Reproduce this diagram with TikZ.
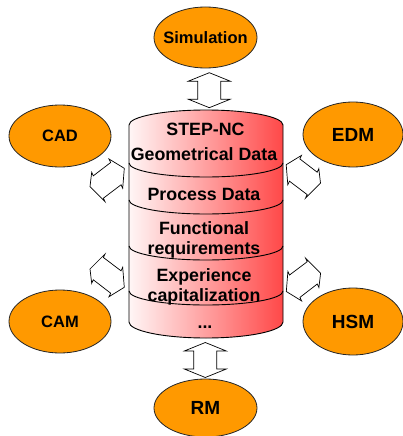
\documentclass[tikz,border=0pt]{standalone}
\usepackage{fontspec}
\setmainfont{Liberation Sans}
\usetikzlibrary{shapes.geometric,calc}
\definecolor{orangefill}{RGB}{255,153,0}
\definecolor{cylleft}{RGB}{255,246,246}
\definecolor{cylright}{RGB}{255,72,72}
\tikzset{
  ell/.style={ellipse, draw=black!85, line width=0.8pt, fill=orangefill, inner sep=0pt,
    font=\bfseries\fontsize{16.5}{18}\selectfont},
  ellbig/.style={ell, font=\bfseries\fontsize{19}{21}\selectfont},
  cyltext/.style={font=\bfseries\fontsize{17.8}{20}\selectfont, anchor=base, inner sep=0pt},
  blockarrow/.style={draw=black, fill=white, line width=0.7pt, line join=miter},
  cylline/.style={draw=black, line width=0.9pt},
  varrow/.pic={\draw[blockarrow] (-17.5,0) -- (-9,21) -- (-9,11.5) -- (9,11.5) -- (9,21)
     -- (17.5,0) -- (9,-21) -- (9,-11.5) -- (-9,-11.5) -- (-9,-21) -- cycle;}
}
% skewed double block arrow: tipA, cornerA1, cornerB1, tipB, cornerB2, cornerA2
\newcommand\hexarrow[6]{\draw[blockarrow] (#1) -- (#2) -- ($(#2)!0.12!(#6)$) -- ($(#3)!0.12!(#5)$)
  -- (#3) -- (#4) -- (#5) -- ($(#5)!0.12!(#3)$) -- ($(#6)!0.12!(#2)$) -- (#6) -- cycle;}
\begin{document}
\begin{tikzpicture}[x=1pt,y=-1pt]
\useasboundingbox (0,0) rectangle (403,436);

% outer ellipses
\node[ell, minimum width=103pt, minimum height=61pt] (sim) at (205.5,37.5) {\makebox[0pt]{Simulation}};
\node[ell, minimum width=102pt, minimum height=62pt] (cad) at (60,136) {\makebox[0pt]{CAD}};
\node[ellbig, minimum width=100pt, minimum height=65pt] (edm) at (353,134.5) {\makebox[0pt]{EDM}};
\node[ell, minimum width=102pt, minimum height=63pt] (cam) at (60,321.5) {\makebox[0pt]{CAM}};
\node[ellbig, minimum width=100pt, minimum height=67pt] (hsm) at (353,321.5) {\makebox[0pt]{HSM}};
\node[ellbig, minimum width=103pt, minimum height=58pt] (rm) at (205.5,408) {\makebox[0pt]{RM}};

% cylinder
\path[left color=cylleft, right color=cylright]
  (129,125) -- (129,322) arc[start angle=180, end angle=0, x radius=77, y radius=16]
  -- (283,125) arc[start angle=0, end angle=-180, x radius=77, y radius=15] -- cycle;
\draw[cylline]
  (129,125) -- (129,322) arc[start angle=180, end angle=0, x radius=77, y radius=16]
  -- (283,125) arc[start angle=0, end angle=-180, x radius=77, y radius=15] -- cycle;
\foreach \c in {163,200,246,291}
  \draw[cylline] (129,\c) arc[start angle=180, end angle=0, x radius=77, y radius=14];

\node[cyltext] (t1) at (205.5,135.7) {STEP-NC};
\node[cyltext] (t2) at (204,160.7) {Geometrical Data};
\node[cyltext] (t3) at (204,200.7) {Process Data};
\node[cyltext] (t4) at (204,234.3) {Functional};
\node[cyltext] (t5) at (204,254) {requirements};
\node[cyltext] (t6) at (204,281.7) {Experience};
\node[cyltext] (t7) at (204,301.7) {capitalization};
\node[cyltext] (t8) at (205,328.3) {...};

% vertical block arrows
\coordinate (aSim) at (209.3,90.2);
\coordinate (aRM)  at (205.3,360);
\pic[rotate=90] at (aSim) {varrow};
\pic[rotate=90] at (aRM) {varrow};

% skewed block arrows
\hexarrow{124.3,168.3}{109,159}{91.7,172.3}{90,186.7}{105,201.7}{122.7,188.3}   % CAD
\hexarrow{124.3,287.3}{122.7,267.3}{105,254}{90,269}{91.7,283.3}{109,296.7}     % CAM
\hexarrow{286.2,164.7}{301.5,155.4}{318.8,168.7}{320.5,183.1}{305.5,198.1}{287.8,184.7} % EDM
\hexarrow{286.3,291.5}{287.9,271.5}{305.6,258.2}{320.6,273.2}{318.9,287.5}{301.6,300.9} % HSM
\end{tikzpicture}
\end{document}
